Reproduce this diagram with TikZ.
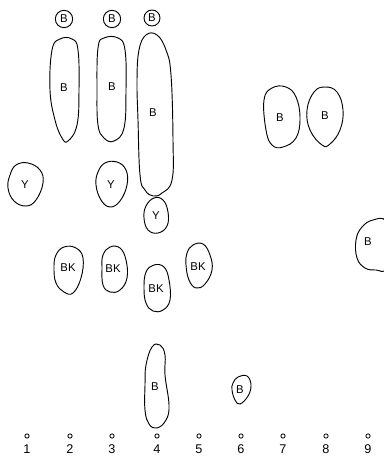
\documentclass[tikz,border=0pt]{standalone}
\usepackage{fontspec}
\setmainfont{Liberation Sans}
\begin{document}
\begin{tikzpicture}[x=0.75pt,y=-0.75pt,
  spot/.style={draw=black,line width=0.7pt},
  lbl/.style={font=\fontsize{8.5}{9}\selectfont,inner sep=0pt},
  num/.style={font=\fontsize{9.5}{10}\selectfont,inner sep=0pt},
  orig/.style={circle,draw=black,line width=0.6pt,minimum size=3.2pt,inner sep=0pt},
  cir/.style={circle,draw=black,line width=0.7pt,minimum size=13pt,inner sep=0pt,font=\fontsize{8.5}{9}\selectfont}]
\clip (0,0) rectangle (384,456);
\useasboundingbox (0,0) rectangle (384,456);
% top small circled spots
\node[cir] (c2) at (64,19) {B};
\node[cir] (c3) at (112,19) {B};
\node[cir,minimum size=12pt] (c4) at (152,18) {B};
% elongated B spots
\draw[spot] plot[smooth cycle,tension=0.7] coordinates {(52,50) (60,39) (72,39) (78,50) (79,90) (77,125) (68,141) (62,138) (55,120) (50,90)};
\node[lbl] (b2) at (64,88) {B};
\draw[spot] plot[smooth cycle,tension=0.7] coordinates {(98,48) (104,38) (118,38) (125,50) (126,90) (124,128) (114,141) (104,138) (98,125) (97,90)};
\node[lbl] (b3) at (112,87) {B};
\draw[spot] plot[smooth cycle,tension=0.7] coordinates {(139,50) (146,35) (157,35) (166,50) (171,75) (173,140) (172,180) (162,193) (153,196) (145,190) (140,175) (138,120) (137,80)};
\node[lbl] (b4) at (153,113) {B};
\draw[spot] plot[smooth cycle,tension=0.7] coordinates {(264,100) (272,88) (286,87) (296,97) (300,118) (296,138) (283,147) (272,145) (266,130)};
\node[lbl] (b7) at (280,118) {B};
\draw[spot] plot[smooth cycle,tension=0.7] coordinates {(307,110) (314,92) (325,87) (337,92) (343,110) (340,130) (330,144) (322,145) (310,130)};
\node[lbl] (b8) at (325,116) {B};
\draw[spot] plot[smooth cycle,tension=0.7] coordinates {(362,227) (373,220) (386,221) (392,245) (386,269) (376,270) (365,268) (357,258) (356,240)};
\node[lbl] (b9) at (368,242) {B};
% Y spots
\draw[spot] plot[smooth cycle,tension=0.7] coordinates {(10,175) (16,165) (28,163) (40,170) (43,183) (36,200) (26,206) (14,201) (8,188)};
\node[lbl] (y1) at (25,185) {Y};
\draw[spot] plot[smooth cycle,tension=0.7] coordinates {(98,172) (105,163) (117,162) (126,170) (127,185) (120,201) (110,207) (101,200) (96,185)};
\node[lbl] (y3) at (111,185) {Y};
\draw[spot] plot[smooth cycle,tension=0.7] coordinates {(146,206) (154,198) (163,200) (168,212) (167,226) (158,233) (148,230) (144,218)};
\node[lbl] (y4) at (156,216) {Y};
% BK spots
\draw[spot] plot[smooth cycle,tension=0.7] coordinates {(56,255) (64,247) (76,248) (83,258) (81,278) (73,293) (64,292) (56,283) (54,268)};
\node[lbl] (k2) at (68,268) {BK};
\draw[spot] plot[smooth cycle,tension=0.7] coordinates {(103,255) (110,247) (120,248) (126,260) (127,278) (120,290) (110,292) (103,285) (102,268)};
\node[lbl] (k3) at (113,269) {BK};
\draw[spot] plot[smooth cycle,tension=0.7] coordinates {(146,272) (154,265) (164,267) (169,280) (170,300) (163,310) (153,311) (146,303) (144,288)};
\node[lbl] (k4) at (156,289) {BK};
\draw[spot] plot[smooth cycle,tension=0.7] coordinates {(187,253) (193,245) (203,244) (210,255) (212,270) (205,284) (196,288) (189,280) (186,265)};
\node[lbl] (k5) at (198,267) {BK};
% lower B spots
\draw[spot] plot[smooth cycle,tension=0.7] coordinates {(146,365) (152,347) (160,345) (165,355) (165,375) (169,405) (166,420) (157,428) (149,424) (145,410) (145,385)};
\node[lbl] (b4l) at (155,387) {B};
\draw[spot] plot[smooth cycle,tension=0.7] coordinates {(233,383) (238,377) (247,376) (251,385) (248,396) (240,404) (235,400) (232,390)};
\node[lbl] (b6) at (240,390) {B};
% origins and lane numbers
\foreach \i/\x in {1/27,2/70,3/112,4/157,5/199,6/241,7/283,8/326,9/368}{
  \node[orig] (o\i) at (\x,436) {};
  \node[num] (n\i) at (\x,449) {\i};
}
\end{tikzpicture}
\end{document}
